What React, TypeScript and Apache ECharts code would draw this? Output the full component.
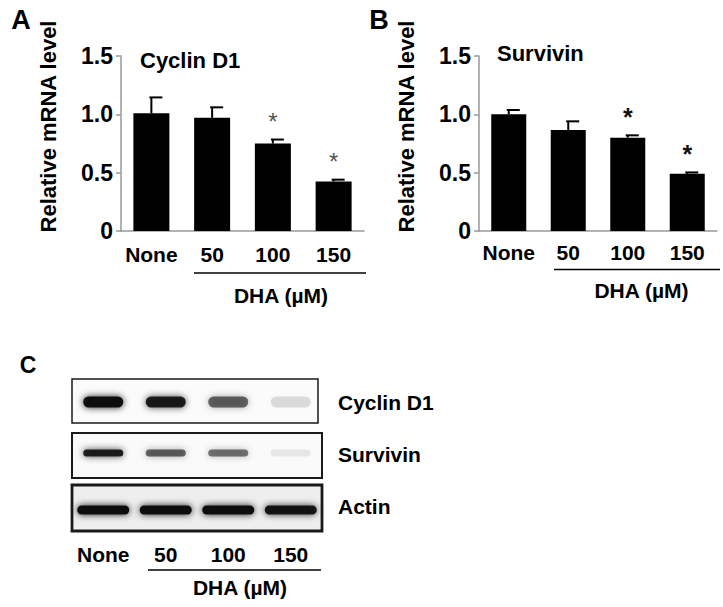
import React, { useEffect, useRef } from "react";
import * as echarts from "echarts";

const categories = ["None", "50", "100", "150"];
const cyclinMean = [1.01, 0.97, 0.75, 0.425];
const cyclinErr = [0.135, 0.09, 0.034, 0.015];
const survivinMean = [1.0, 0.865, 0.8, 0.49];
const survivinErr = [0.037, 0.075, 0.02, 0.012];
const significance = ["", "", "*", "*"];
const yTickLabels = ["0", "0.5", "1.0", "1.5"];

const blotRows = ["Cyclin D1", "Survivin", "Actin"];
const cyclinBand = [1.0, 0.9, 0.6, 0.12];
const survivinBand = [0.9, 0.62, 0.55, 0.07];
const actinBand = [1.0, 1.0, 1.0, 0.95];

const FONT = "'Liberation Sans', Arial, Helvetica, sans-serif";

// styling constants (not data)
const bandW = [40, 40, 52];
const bandH = [11, 7, 9];
const bandDy = [0, -1, 4];
const boxDy = [-1, 1.5, 2];
const boxH = [44, 45, 46];
const boxFill = ["#fbfbfb", "#fafafa", "#eeeeee"];
const boxLine = [1.5, 2, 2.8];

function errorSeries(
  gridIdx: number,
  mean: number[],
  err: number[],
  starColor: string,
  starSize: number,
  starWeight: string
) {
  return {
    type: "custom",
    xAxisIndex: gridIdx,
    yAxisIndex: gridIdx,
    data: categories.map((_, i) => [i, mean[i], err[i]]),
    encode: { x: 0, y: 1 },
    z: 5,
    renderItem: (params: any, api: any) => {
      const i = api.value(0);
      const m = api.value(1);
      const e = api.value(2);
      const base = api.coord([i, m]);
      const top = api.coord([i, m + e]);
      const children: any[] = [
        {
          type: "line",
          shape: { x1: base[0], y1: base[1], x2: base[0], y2: top[1] },
          style: { stroke: "#000", lineWidth: 2 },
        },
        {
          type: "line",
          shape: { x1: base[0] - 2, y1: top[1], x2: base[0] + 11, y2: top[1] },
          style: { stroke: "#000", lineWidth: 2 },
        },
      ];
      const s = significance[params.dataIndex];
      if (s) {
        children.push({
          type: "text",
          style: {
            text: s,
            x: base[0],
            y: top[1] - 6,
            align: "center",
            verticalAlign: "bottom",
            textAlign: "center",
            textVerticalAlign: "bottom",
            fill: starColor,
            font: `${starWeight} ${starSize}px ${FONT}`,
          },
        });
      }
      return { type: "group", children };
    },
  };
}

export default function App() {
  const ref = useRef<HTMLDivElement>(null);
  useEffect(() => {
    if (!ref.current) return;
    const chart = echarts.init(ref.current, null, { renderer: "svg" });

    const labelStyle = {
      color: "#000",
      fontSize: 21,
      fontWeight: "bold",
      fontFamily: FONT,
    };

    const barXAxis = (gridIndex: number, margin: number) => ({
      type: "category",
      gridIndex,
      data: categories,
      axisLine: { show: true, lineStyle: { color: "#999", width: 1.5 } },
      axisTick: { show: false },
      axisLabel: { ...labelStyle, margin, interval: 0 },
    });
    const barYAxis = (gridIndex: number) => ({
      type: "value",
      gridIndex,
      min: 0,
      max: 1.5,
      interval: 0.5,
      axisLine: { show: true, lineStyle: { color: "#999", width: 1.5 } },
      axisTick: { show: true, length: 5, lineStyle: { color: "#999", width: 1.5 } },
      splitLine: { show: false },
      axisLabel: {
        ...labelStyle,
        fontSize: 23,
        margin: 8,
        formatter: (v: number) => yTickLabels[Math.round(v / 0.5)] ?? "",
      },
    });

    const blotData: number[][] = [];
    [cyclinBand, survivinBand, actinBand].forEach((row, r) =>
      row.forEach((a, lane) => blotData.push([lane, r, a]))
    );

    const txt = (
      text: string,
      x: number,
      y: number,
      size: number,
      align = "center",
      rotation = 0
    ) => ({
      type: "text",
      x,
      y,
      rotation,
      style: {
        text,
        x: 0,
        y: 0,
        align,
        verticalAlign: "middle",
        textAlign: align,
        textVerticalAlign: "middle",
        fill: "#000",
        font: `bold ${size}px ${FONT}`,
      },
    });
    const hline = (x1: number, x2: number, y: number) => ({
      type: "line",
      shape: { x1, y1: y, x2, y2: y },
      style: { stroke: "#000", lineWidth: 1.5 },
    });

    chart.setOption({
      animation: false,
      backgroundColor: "#fff",
      grid: [
        { left: 121, top: 56, width: 243, height: 175 },
        { left: 479, top: 56, width: 238, height: 175 },
        { left: 72, top: 376, width: 250, height: 156 },
      ],
      xAxis: [
        barXAxis(0, 13),
        barXAxis(1, 11),
        {
          type: "category",
          gridIndex: 2,
          data: categories,
          axisLine: { show: false },
          axisTick: { show: false },
          axisLabel: { ...labelStyle, margin: 12, interval: 0 },
        },
      ],
      yAxis: [
        barYAxis(0),
        barYAxis(1),
        {
          type: "category",
          gridIndex: 2,
          data: blotRows,
          inverse: true,
          position: "right",
          axisLine: { show: false },
          axisTick: { show: false },
          axisLabel: { ...labelStyle, margin: 16, align: "left" },
        },
      ],
      series: [
        {
          type: "bar",
          xAxisIndex: 0,
          yAxisIndex: 0,
          data: cyclinMean,
          barWidth: 36,
          itemStyle: { color: "#000" },
        },
        errorSeries(0, cyclinMean, cyclinErr, "#555", 24, "normal"),
        {
          type: "bar",
          xAxisIndex: 1,
          yAxisIndex: 1,
          data: survivinMean,
          barWidth: 35,
          itemStyle: { color: "#000" },
        },
        errorSeries(1, survivinMean, survivinErr, "#111", 25, "bold"),
        {
          type: "custom",
          xAxisIndex: 2,
          yAxisIndex: 2,
          data: blotRows.map((_, r) => [0, r]),
          encode: { x: 0, y: 1 },
          z: 1,
          renderItem: (params: any, api: any) => {
            const r = api.value(1);
            const c0 = api.coord([0, r]);
            const c3 = api.coord([3, r]);
            const sz = api.size([1, 1]);
            const x0 = c0[0] - sz[0] / 2;
            const x1 = c3[0] + sz[0] / 2 - (r === 0 ? 4 : 0);
            const h = boxH[r];
            return {
              type: "rect",
              shape: { x: x0, y: c0[1] + boxDy[r] - h / 2, width: x1 - x0, height: h },
              style: { fill: boxFill[r], stroke: "#1a1a1a", lineWidth: boxLine[r] },
            };
          },
        },
        {
          type: "custom",
          xAxisIndex: 2,
          yAxisIndex: 2,
          data: blotData,
          encode: { x: 0, y: 1 },
          z: 2,
          renderItem: (params: any, api: any) => {
            const lane = api.value(0);
            const r = api.value(1);
            const a = api.value(2);
            const c = api.coord([lane, r]);
            const w = bandW[r];
            const h = bandH[r];
            return {
              type: "rect",
              shape: { x: c[0] - w / 2, y: c[1] + bandDy[r] - h / 2, width: w, height: h, r: h / 2 },
              style: {
                fill: `rgba(15,15,15,${a})`,
                shadowBlur: 7,
                shadowColor: `rgba(15,15,15,${a * 0.9})`,
              },
            };
          },
        },
      ],
      graphic: [
        txt("A", 21, 20, 27),
        txt("B", 379, 20, 27),
        txt("C", 28, 365, 23),
        txt("Relative mRNA level", 48, 126.5, 22, "center", Math.PI / 2),
        txt("Relative mRNA level", 406.5, 126.5, 22, "center", Math.PI / 2),
        txt("Cyclin D1", 140, 60, 22, "left"),
        txt("Survivin", 497, 53, 22, "left"),
        hline(194, 366, 273),
        txt("DHA (µM)", 281, 295, 21),
        hline(554, 720, 269.5),
        txt("DHA (µM)", 641.5, 290, 21),
        hline(148, 321, 570),
        txt("DHA (µM)", 240, 587, 21),
      ],
    });
    return () => chart.dispose();
  }, []);
  return (
    <div
      ref={ref}
      style={{ position: "fixed", left: 0, top: 0, width: 723, height: 607 }}
    />
  );
}
